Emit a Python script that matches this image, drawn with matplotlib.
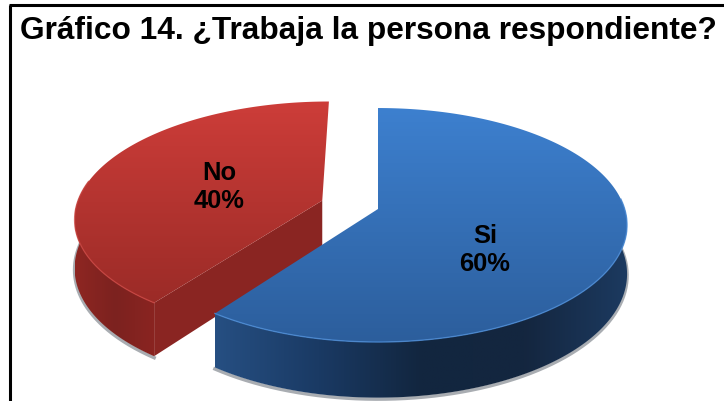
import numpy as np
import matplotlib
matplotlib.use("Agg")
import matplotlib.pyplot as plt
from matplotlib.colors import LinearSegmentedColormap
from matplotlib.patches import Polygon

title = "Gráfico 14. ¿Trabaja la persona respondiente?"
labels = ["Si", "No"]
values = [60, 40]
explode = [0.0, 0.24]
top_colors = [["#3d80cf", "#2c5e9c"], ["#cd3d39", "#9b2b27"]]
side_colors = [["#264f82", "#1a3a64", "#12263f", "#14263f", "#1c3a60"],
               ["#8e2622", "#7c221f", "#8a2421"]]
wall_color = "#8a2522"
rim_colors = ["#4a8bd6", "#c8423e"]
shadow_color = "#a9adb2"
# part of the rim that shows the outer wall, degrees
wall_span = [(5.0, -126.0), (170.0, 234.0)]
label_pos = [(485, 250), (219, 187)]

# pie projection, in pixels of the picture
cx, cy = 378, 210
a, b, p = 246.7, 114.8, 0.137
depth = 48


def project(X, Y, drop=0.0):
    w = 1 + p * Y
    return cx + a * X / w, cy - b * Y / w + drop / w


def gradient(ax, pts, colors, z, horizontal=False):
    cmap = LinearSegmentedColormap.from_list("g", colors)
    poly = Polygon(pts, closed=True, fc="none", ec="none", zorder=z)
    ax.add_patch(poly)
    g = np.linspace(0, 1, 256)
    g = g.reshape(1, -1) if horizontal else g.reshape(-1, 1)
    xs, ys = pts.T
    im = ax.imshow(g, cmap=cmap, aspect="auto", interpolation="bilinear",
                   extent=(xs.min(), xs.max(), ys.max(), ys.min()), zorder=z)
    im.set_clip_path(poly)


def arc(t0, t1, ox, oy, drop=0.0):
    t = np.radians(np.linspace(t0, t1, 200))
    return project(ox + np.cos(t), oy + np.sin(t), drop)


fig = plt.figure(figsize=(7.24, 4.02), dpi=100)
ax = fig.add_axes([0, 0, 1, 1])

# wedges go clockwise from 12 o'clock: Si first, then No
total = sum(values)
start = 90.0
wedges = []
for v, e in zip(values, explode):
    end = start - 360.0 * v / total
    mid = np.radians((start + end) / 2)
    wedges.append((start, end, e * np.cos(mid), e * np.sin(mid)))
    start = end

# red goes first, blue overlaps it
for i in [1, 0]:
    t0, t1, ox, oy = wedges[i]
    z = 2 + (1 - i) * 5
    sa, sb = wall_span[i]

    # outer wall with its grey edge
    x1, y1 = arc(sa, sb, ox, oy)
    x2, y2 = arc(sb, sa, ox, oy, depth)
    ax.plot(x2, y2 + 1.5, color=shadow_color, lw=2.5, zorder=z - 1)
    gradient(ax, np.c_[np.r_[x1, x2], np.r_[y1, y2]], side_colors[i], z, horizontal=True)

    ax0, ay0 = project(ox, oy)

    # red cut face towards the blue slice
    if i == 1:
        bx0, by0 = project(ox, oy, depth)
        ex, ey = arc(t0, t0, ox, oy)
        fx, fy = arc(t0, t0, ox, oy, depth)
        ax.fill([ax0, ex[0], fx[0], bx0], [ay0, ey[0], fy[0], by0], color=wall_color, lw=0, zorder=z + 0.5)

    # top face
    tx, ty = arc(t0, t1, ox, oy)
    gradient(ax, np.c_[np.r_[ax0, tx], np.r_[ay0, ty]], top_colors[i], z + 1)

    # light rim along the front edge
    ax.plot(x1, y1, color=rim_colors[i], lw=1, alpha=0.8, zorder=z + 1.5)

for name, v, (lx, ly) in zip(labels, values, label_pos):
    ax.text(lx, ly, f"{name}\n{v}%", ha="center", va="center", fontsize=18.4, fontweight="bold",
            family="Liberation Sans", color="black", linespacing=1.25, zorder=20)

ax.text(20, 31, title, ha="left", va="center", fontsize=22.8, fontweight="bold",
        family="Liberation Sans", color="black", zorder=20)

# frame, only left and top are inside the crop
ax.plot([10, 10], [402, 6], color="black", lw=2.2, zorder=21, solid_capstyle="butt")
ax.plot([9, 724], [6, 6], color="black", lw=2.2, zorder=21, solid_capstyle="butt")

ax.set_xlim(0, 724)
ax.set_ylim(402, 0)
ax.axis("off")
fig.savefig("out.png", dpi=100)
